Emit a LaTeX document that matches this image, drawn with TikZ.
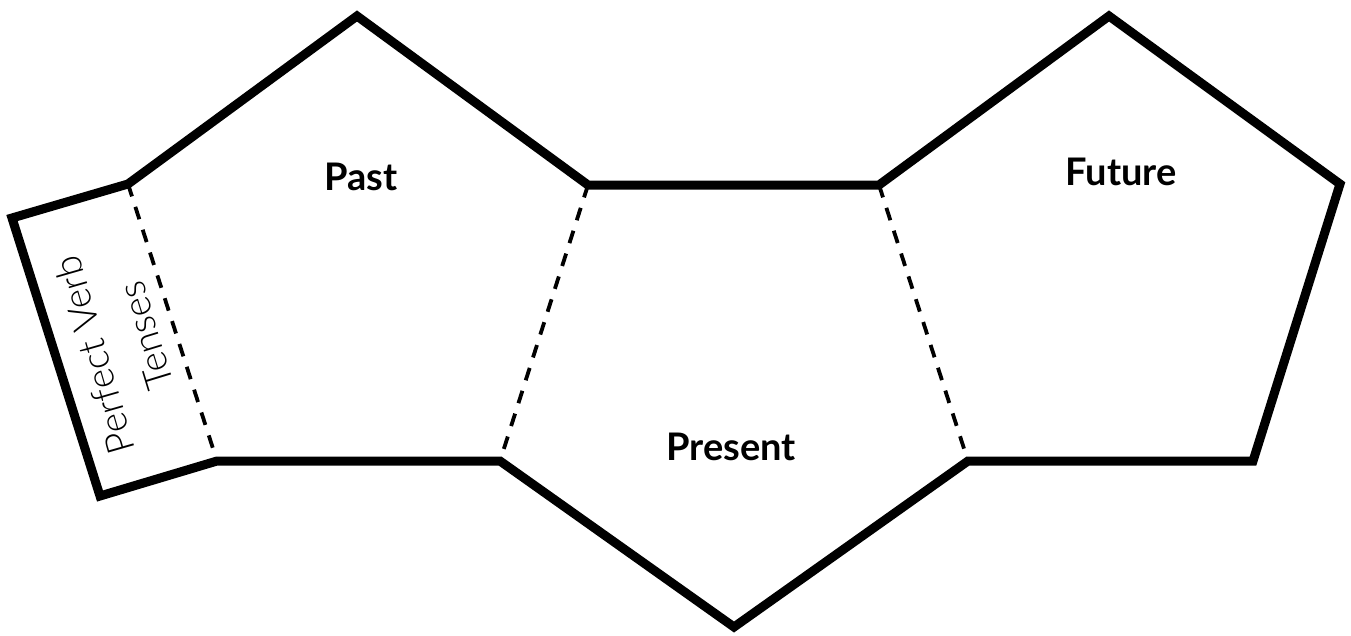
\documentclass[tikz,border=0pt]{standalone}
\usepackage{fontspec}
\setmainfont{Lato}
\newfontfamily\labfont{Lato}
\newfontfamily\handfont{Lato Light}
\begin{document}
\begin{tikzpicture}[x=1pt,y=-1pt,
  outline/.style={line width=9pt,line join=miter,black},
  fold/.style={line width=3.8pt,dash pattern=on 13pt off 11pt,black},
  lab/.style={font=\labfont\bfseries\fontsize{38}{40}\selectfont,inner sep=0pt,anchor=base},
  hand/.style={font=\handfont\fontsize{38}{40}\selectfont,inner sep=0pt}]
\useasboundingbox (0,0) rectangle (1351,635);
% vertices
\coordinate (tTL) at (12,218);
\coordinate (tBL) at (100,496);
\coordinate (pL) at (128,184);
\coordinate (pT) at (357,16);
\coordinate (pR) at (588,185);
\coordinate (pBR) at (500,461);
\coordinate (pBL) at (217,461);
\coordinate (fL) at (879,185);
\coordinate (fT) at (1109,16);
\coordinate (fR) at (1340,184);
\coordinate (fBR) at (1253,461);
\coordinate (fBL) at (968,461);
\coordinate (sB) at (734,627);
% outline
\draw[outline] (tTL) -- (pL) -- (pT) -- (pR) -- (fL) -- (fT) -- (fR) -- (fBR)
  -- (fBL) -- (sB) -- (pBR) -- (pBL) -- (tBL) -- cycle;
% fold lines
\draw[fold] (pL) -- (pBL);
\draw[fold] (pR) -- (pBR);
\draw[fold] (fL) -- (fBL);
% labels
\node[lab] (past) at (361,190) {Past};
\node[lab] (future) at (1121,185) {Future};
\node[lab] (present) at (731,460) {Present};
\node[hand,rotate=106] (perf) at (94,355) {Perfect Verb};
\node[hand,rotate=107] (tens) at (146,336) {Tenses};
\end{tikzpicture}
\end{document}
